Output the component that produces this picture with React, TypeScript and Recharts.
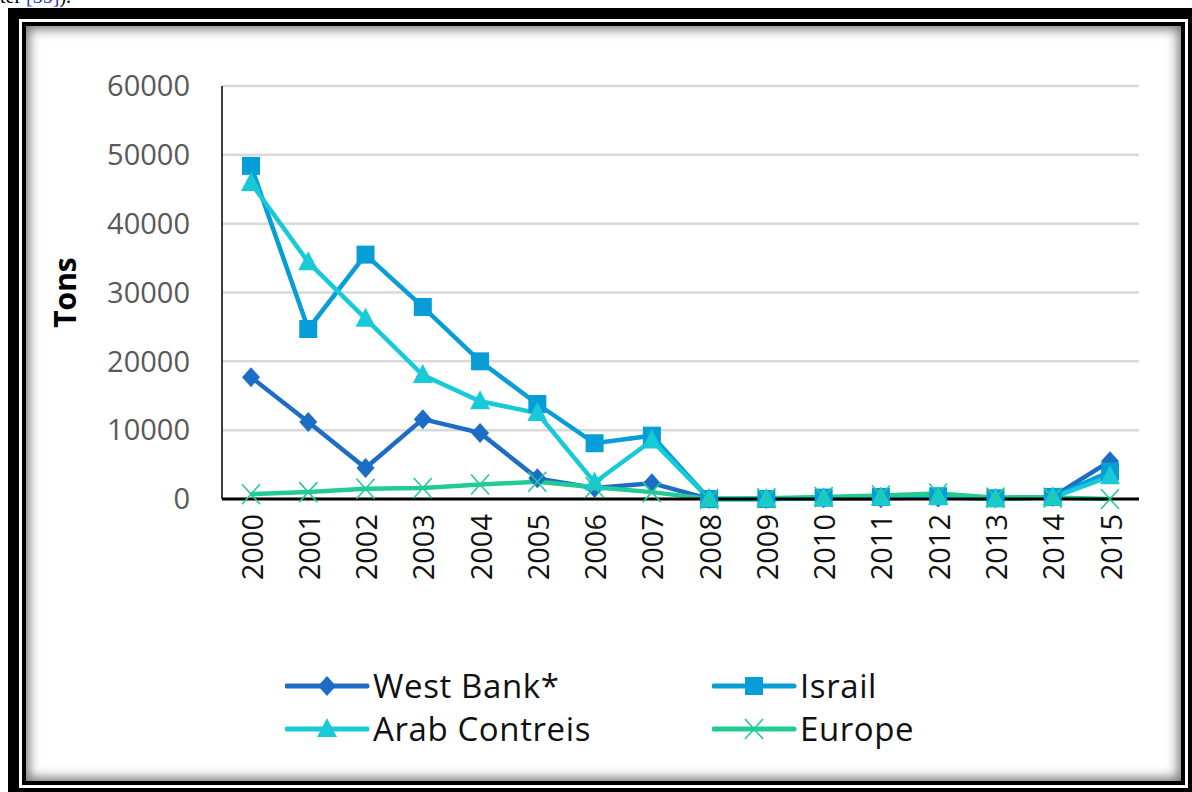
import React from "react";
import {
  LineChart,
  Line,
  XAxis,
  YAxis,
  CartesianGrid,
  Legend,
} from "recharts";

const years = [
  "2000", "2001", "2002", "2003", "2004", "2005", "2006", "2007",
  "2008", "2009", "2010", "2011", "2012", "2013", "2014", "2015",
];
const westBank = [17700, 11200, 4500, 11600, 9600, 3000, 1600, 2300, 0, 0, 100, 100, 200, 100, 300, 5500];
const israil = [48400, 24700, 35500, 27900, 20000, 13800, 8100, 9200, 0, 0, 200, 300, 400, 100, 300, 4000];
const arab = [45900, 34400, 26200, 18000, 14200, 12500, 2400, 8500, 0, 0, 100, 200, 300, 0, 200, 3300];
const europe = [700, 1000, 1500, 1600, 2100, 2500, 1700, 1000, 0, 100, 300, 500, 800, 200, 200, 0];
const yTicks = [0, 10000, 20000, 30000, 40000, 50000, 60000];

const data = years.map((year, i) => ({
  year,
  westBank: westBank[i],
  israil: israil[i],
  arab: arab[i],
  europe: europe[i],
}));

const series = [
  { key: "westBank", name: "West Bank*", color: "#1D6CC5", shape: "diamond" },
  { key: "israil", name: "Israil", color: "#079DD7", shape: "square" },
  { key: "arab", name: "Arab Contreis", color: "#18CAD8", shape: "triangle" },
  { key: "europe", name: "Europe", color: "#22CB95", shape: "cross" },
];

function marker(shape: string, cx: number, cy: number, color: string, k?: string) {
  if (shape === "diamond")
    return <path key={k} d={`M${cx},${cy - 10} L${cx + 9},${cy} L${cx},${cy + 10} L${cx - 9},${cy} Z`} fill={color} />;
  if (shape === "square")
    return <rect key={k} x={cx - 9} y={cy - 9} width={18} height={18} fill={color} />;
  if (shape === "triangle")
    return <path key={k} d={`M${cx},${cy - 11} L${cx + 10},${cy + 8} L${cx - 10},${cy + 8} Z`} fill={color} />;
  return (
    <path
      key={k}
      d={`M${cx - 9},${cy - 10} L${cx + 9},${cy + 10} M${cx + 9},${cy - 10} L${cx - 9},${cy + 10}`}
      stroke={color}
      strokeWidth={1.6}
      fill="none"
    />
  );
}

const makeDot = (shape: string, color: string) => (props: any) => {
  const { cx, cy, index } = props;
  if (cx == null || cy == null) return <g key={index} />;
  return marker(shape, cx, cy, color, `d${index}`);
};

const XTick = (props: any) => {
  const { x, y, payload } = props;
  return (
    <text
      x={x}
      y={y}
      transform={`rotate(-90 ${x} ${y})`}
      textAnchor="end"
      dominantBaseline="central"
      fontSize={29}
      fontFamily="'Open Sans', sans-serif"
      fill="#111"
    >
      {payload.value}
    </text>
  );
};

const LegendBox = () => {
  const cols = [265, 692];
  return (
    <div style={{ position: "relative", width: "100%", height: 100 }}>
      {series.map((s, i) => (
        <div
          key={s.key}
          style={{
            position: "absolute",
            left: cols[i % 2],
            top: 12 + Math.floor(i / 2) * 43,
            height: 43,
            display: "flex",
            alignItems: "center",
            fontFamily: "'Open Sans', sans-serif",
            fontSize: 33,
            letterSpacing: 0.6,
            color: "#111",
            whiteSpace: "nowrap",
          }}
        >
          <svg width={86} height={30} style={{ marginRight: 2 }}>
            <line x1={2} y1={15} x2={82} y2={15} stroke={s.color} strokeWidth={5} strokeLinecap="round" />
            {marker(s.shape, 42, 15, s.color)}
          </svg>
          <span>{s.name}</span>
        </div>
      ))}
    </div>
  );
};

export default function App() {
  return (
    <div
      style={{
        position: "absolute",
        left: 0,
        top: 0,
        width: 1192,
        height: 792,
        background: "#fff",
        overflow: "hidden",
      }}
    >
      <div
        style={{
          position: "absolute",
          left: 0,
          top: -15,
          fontFamily: "'Liberation Serif', serif",
          fontSize: 20,
          color: "#000",
        }}
      >
        ter <span style={{ color: "#2233cc" }}>[35]</span>).
      </div>
      <div
        style={{
          position: "absolute",
          left: 8,
          top: 8,
          width: 1184,
          height: 784,
          boxSizing: "border-box",
          borderStyle: "solid",
          borderColor: "#000",
          borderWidth: "11px 4px 4px 11px",
          padding: 3,
          background: "#fff",
        }}
      >
        <div
          style={{
            width: "100%",
            height: "100%",
            boxSizing: "border-box",
            border: "4px solid #000",
            boxShadow: "inset 0 0 12px 3px rgba(0,0,0,0.55)",
            background: "#fff",
          }}
        />
      </div>
      <div style={{ position: "absolute", left: 0, top: 0 }}>
        <LineChart
          width={1192}
          height={792}
          data={data}
          margin={{ top: 86, right: 53, bottom: 40, left: 20 }}
        >
          <CartesianGrid vertical={false} stroke="#D9D9D9" strokeWidth={2.5} />
          <XAxis
            dataKey="year"
            interval={0}
            height={153}
            padding={{ left: 29, right: 29 }}
            tickLine={false}
            tickSize={0}
            tickMargin={15}
            axisLine={{ stroke: "#000", strokeWidth: 3 }}
            tick={<XTick />}
          />
          <YAxis
            width={202}
            domain={[0, 60000]}
            ticks={yTicks}
            tickLine={false}
            tickSize={0}
            tickMargin={32}
            axisLine={{ stroke: "#000", strokeWidth: 1.5 }}
            tick={{ fontSize: 29, fill: "#595959", fontFamily: "'Open Sans', sans-serif" }}
            label={{
              value: "Tons",
              angle: -90,
              position: "insideLeft",
              offset: 45,
              style: {
                textAnchor: "middle",
                fontSize: 30,
                fontWeight: 700,
                fill: "#000",
                fontFamily: "'Open Sans', sans-serif",
              },
            }}
          />
          <Legend verticalAlign="bottom" height={100} content={<LegendBox />} />
          {series.map((s) => (
            <Line
              key={s.key}
              type="linear"
              dataKey={s.key}
              name={s.name}
              stroke={s.color}
              strokeWidth={4.5}
              dot={makeDot(s.shape, s.color)}
              activeDot={false}
              isAnimationActive={false}
            />
          ))}
        </LineChart>
      </div>
    </div>
  );
}
